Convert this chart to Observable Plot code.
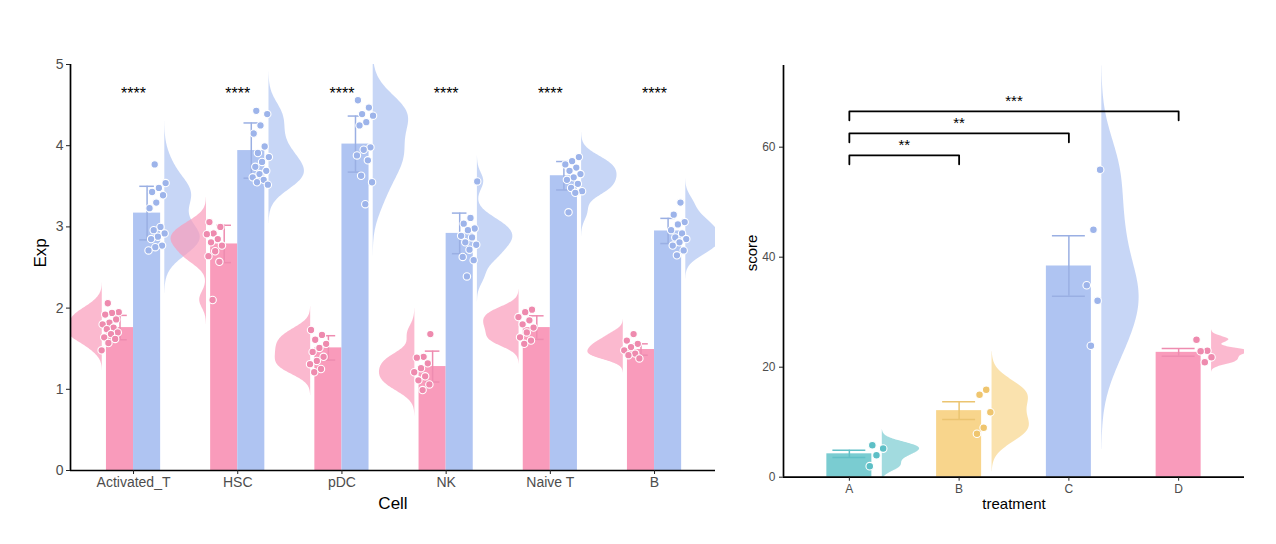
<!DOCTYPE html>
<html><head><meta charset="utf-8">
<script src="https://cdn.jsdelivr.net/npm/d3@7"></script>
<script src="https://cdn.jsdelivr.net/npm/@observablehq/plot@0.6"></script>
<style>
body{margin:0;background:#fff;}
#wrap{position:relative;width:1276px;height:544px;background:#fff;}
#wrap svg{position:absolute;top:0;}
</style>
</head><body><div id="wrap"></div>
<script>
// ---------- Left panel data ----------
const cells = ["Activated_T", "HSC", "pDC", "NK", "Naive T", "B"];
const sigCells = ["****", "****", "****", "****", "****", "****"];
const meanPink = [1.76, 2.79, 1.51, 1.28, 1.76, 1.49];
const sdPink   = [0.15, 0.23, 0.15, 0.19, 0.145, 0.07];
const meanBlue = [3.17, 3.94, 4.02, 2.92, 3.63, 2.95];
const sdBlue   = [0.33, 0.34, 0.345, 0.25, 0.175, 0.155];
const ptsPink = [
  [2.06,1.95,1.94,1.92,1.86,1.82,1.80,1.76,1.74,1.70,1.68,1.64,1.62,1.57,1.48],
  [3.06,3.00,2.92,2.91,2.85,2.81,2.77,2.70,2.64,2.57,2.10],
  [1.73,1.67,1.61,1.56,1.51,1.46,1.40,1.35,1.31,1.25,1.21],
  [1.68,1.40,1.39,1.32,1.26,1.21,1.16,1.11,1.06,0.99],
  [1.98,1.95,1.89,1.85,1.80,1.76,1.70,1.64,1.60,1.56],
  [1.68,1.60,1.56,1.52,1.48,1.44,1.42,1.38]
];
const ptsBlue = [
  [3.77,3.54,3.48,3.43,3.39,3.30,3.23,3.00,2.96,2.92,2.88,2.85,2.77,2.75,2.71],
  [4.43,4.39,4.25,4.15,3.99,3.91,3.86,3.80,3.74,3.69,3.65,3.61,3.58,3.55,3.52],
  [4.56,4.47,4.39,4.37,4.29,4.25,3.98,3.95,3.88,3.82,3.63,3.55,3.28],
  [3.56,3.11,3.04,2.98,2.96,2.89,2.87,2.81,2.78,2.72,2.63,2.59,2.39],
  [3.86,3.81,3.77,3.73,3.69,3.65,3.61,3.58,3.53,3.48,3.44,3.42,3.18],
  [3.30,3.15,3.06,3.03,2.96,2.92,2.87,2.85,2.81,2.77,2.71,2.65]
];
const yTicksLeft = [0, 1, 2, 3, 4, 5];

// ---------- Right panel data ----------
const treatments = ["A", "B", "C", "D"];
const scoreMean = [4.25, 12.1, 38.4, 22.7];
const scoreErr  = [0.65, 1.6, 5.5, 0.7];
const scorePts = [
  [5.8, 5.2, 4.0, 2.0],
  [15.9, 15.0, 11.8, 9.0, 7.9],
  [55.9, 45.0, 34.9, 32.1, 23.9],
  [25.0, 23.0, 22.9, 21.8, 20.9]
];
const comparisons = [["A","B"], ["A","C"], ["A","D"]];
const compLabels = ["**", "**", "***"];
const compY = [58.5, 62.5, 66.5];
const yTicksRight = [0, 20, 40, 60];

// ---------- styles ----------
const FONT = "Liberation Sans, Arial, Helvetica, sans-serif";
const pinkC = {bar:"#F99BBB", dot:"#EE8AAE", err:"#EE8CB0", vio:"#F99BBB"};
const blueC = {bar:"#AFC4F2", dot:"#9DB4EA", err:"#9AAFE3", vio:"#AFC4F2"};
const trtBar = ["#7ACCD1", "#F8D58C", "#AFC4F2", "#F99BBB"];
const trtDot = ["#5DBFC6", "#EFC56E", "#9DB4EA", "#EE8AAE"];
const trtErr = ["#62C0C7", "#EBC470", "#9AAFE3", "#EE8CB0"];

// ---------- helpers ----------
function nrd0(v) {
  const s = v.slice().sort(d3.ascending);
  const sd = d3.deviation(s);
  const iqr = (d3.quantile(s, 0.75) - d3.quantile(s, 0.25)) / 1.34;
  let lo = Math.min(sd, iqr);
  if (!(lo > 0)) lo = sd || 1;
  return 0.9 * lo * Math.pow(s.length, -0.2);
}
function density(values, n = 160) {
  const bw = nrd0(values);
  const lo = d3.min(values) - 3 * bw, hi = d3.max(values) + 3 * bw;
  const pts = d3.range(n).map(k => {
    const y = lo + (hi - lo) * k / (n - 1);
    const d = d3.mean(values, v => Math.exp(-0.5 * ((y - v) / bw) ** 2));
    return {y, d};
  });
  const m = d3.max(pts, p => p.d);
  pts.forEach(p => p.w = p.d / m);
  return pts;
}
const jit = k => ((k * 0.6180339887 + 0.37) % 1) - 0.5;

// ---------- build left rows ----------
const barW = 0.26;
const leftBars = [], leftViol = [], leftDots = [];
cells.forEach((c, i) => {
  leftBars.push({i, g:"pink", x1:i - barW, x2:i, mean:meanPink[i], sd:sdPink[i]});
  leftBars.push({i, g:"blue", x1:i, x2:i + barW, mean:meanBlue[i], sd:sdBlue[i]});
  density(ptsPink[i]).forEach(p => leftViol.push({key:c+"p", g:"pink", i, dir:-1, ...p}));
  density(ptsBlue[i]).forEach(p => leftViol.push({key:c+"b", g:"blue", i, dir:1, ...p}));
  ptsPink[i].forEach((v, k) => leftDots.push({g:"pink", i, v, k, side:-1}));
  ptsBlue[i].forEach((v, k) => leftDots.push({g:"blue", i, v, k, side:1}));
});
const colL = g => g === "pink" ? pinkC : blueC;

const left = Plot.plot({
  width: 740, height: 544,
  marginLeft: 70, marginRight: 25, marginTop: 64, marginBottom: 74,
  style: {fontFamily: FONT, background: "transparent", overflow: "visible"},
  x: {type: "linear", domain: [-0.605, 5.585], axis: null},
  y: {domain: [0, 5], axis: null},
  marks: [
    Plot.areaX(leftViol, {
      x1: d => d.i + d.dir * 0.30,
      x2: d => d.i + d.dir * (0.30 + 0.34 * d.w),
      y: "y", z: "key", fill: d => colL(d.g).vio, fillOpacity: 0.7, clip: true
    }),
    Plot.rect(leftBars, {x1: "x1", x2: "x2", y1: 0, y2: "mean", fill: d => colL(d.g).bar}),
    Plot.ruleX(leftBars, {x: d => (d.x1 + d.x2) / 2, y1: d => d.mean - d.sd, y2: d => d.mean + d.sd,
      stroke: d => colL(d.g).err, strokeWidth: 1.5}),
    Plot.ruleY(leftBars, {x1: d => (d.x1 + d.x2) / 2 - 0.07, x2: d => (d.x1 + d.x2) / 2 + 0.07,
      y: d => d.mean + d.sd, stroke: d => colL(d.g).err, strokeWidth: 1.5}),
    Plot.ruleY(leftBars, {x1: d => (d.x1 + d.x2) / 2 - 0.07, x2: d => (d.x1 + d.x2) / 2 + 0.07,
      y: d => d.mean - d.sd, stroke: d => colL(d.g).err, strokeWidth: 1.5}),
    Plot.dot(leftDots, {
      x: d => d.i + d.side * 0.225 + jit(d.k + d.i * 3) * 0.17,
      y: "v", r: 3.7, fill: d => colL(d.g).dot, stroke: "white", strokeWidth: 1.1
    }),
    Plot.text(sigCells, {x: (d, i) => i, y: () => 4.64, text: d => d, fontSize: 16, fill: "black"}),
    Plot.ruleY([0], {stroke: "black", strokeWidth: 1.7}),
    Plot.ruleX([-0.605], {stroke: "black", strokeWidth: 1.7}),
    Plot.axisY({ticks: yTicksLeft, tickFormat: d3.format("d"), tickSize: 4, tickPadding: 3, fontSize: 14, color: "#4D4D4D", stroke: "#222", label: null}),
    Plot.axisX({ticks: d3.range(cells.length), tickFormat: i => cells[i], tickSize: 4, tickPadding: 3,
      fontSize: 14, color: "#4D4D4D", stroke: "#222", label: null}),
    Plot.text(["Cell"], {frameAnchor: "bottom", dy: 38, fontSize: 17, fill: "black"}),
    Plot.text(["Exp"], {frameAnchor: "left", dx: -30, rotate: -90, fontSize: 17, fill: "black"})
  ]
});
left.style.left = "0px";

// ---------- build right rows ----------
const rBars = treatments.map((t, i) => ({i, t, mean: scoreMean[i], err: scoreErr[i]}));
const rViol = [], rDots = [];
treatments.forEach((t, i) => {
  density(scorePts[i]).forEach(p => rViol.push({key: t, i, ...p}));
  scorePts[i].forEach((v, k) => rDots.push({i, v, k}));
});
const bracketRows = [];
comparisons.forEach(([a, b], j) => {
  const xa = treatments.indexOf(a), xb = treatments.indexOf(b), y = compY[j];
  [[xa, y - 1.6], [xa, y], [xb, y], [xb, y - 1.6]].forEach(([x, yy]) => bracketRows.push({j, x, y: yy}));
});
const labelRows = comparisons.map(([a, b], j) => ({
  x: (treatments.indexOf(a) + treatments.indexOf(b)) / 2, y: compY[j] + 1.8, text: compLabels[j]
}));

const right = Plot.plot({
  width: 536, height: 544,
  marginLeft: 43, marginRight: 32, marginTop: 65, marginBottom: 67.3,
  style: {fontFamily: FONT, background: "transparent", overflow: "visible"},
  x: {type: "linear", domain: [-0.6, 3.6], axis: null},
  y: {domain: [0, 74.85], axis: null},
  marks: [
    Plot.areaX(rViol, {
      x1: d => d.i + 0.30, x2: d => d.i + 0.30 + 0.34 * d.w,
      y: "y", z: "key", fill: d => trtBar[d.i], fillOpacity: 0.7, clip: true
    }),
    Plot.rect(rBars, {x1: d => d.i - 0.205, x2: d => d.i + 0.205, y1: 0, y2: "mean", fill: d => trtBar[d.i]}),
    Plot.ruleX(rBars, {x: "i", y1: d => d.mean - d.err, y2: d => d.mean + d.err, stroke: d => trtErr[d.i], strokeWidth: 1.5}),
    Plot.ruleY(rBars, {x1: d => d.i - 0.15, x2: d => d.i + 0.15, y: d => d.mean + d.err, stroke: d => trtErr[d.i], strokeWidth: 1.5}),
    Plot.ruleY(rBars, {x1: d => d.i - 0.15, x2: d => d.i + 0.15, y: d => d.mean - d.err, stroke: d => trtErr[d.i], strokeWidth: 1.5}),
    Plot.dot(rDots, {x: d => d.i + 0.23 + jit(d.k + d.i * 2) * 0.16, y: "v", r: 3.8,
      fill: d => trtDot[d.i], stroke: "white", strokeWidth: 1.1}),
    Plot.line(bracketRows, {x: "x", y: "y", z: "j", stroke: "black", strokeWidth: 1.8}),
    Plot.text(labelRows, {x: "x", y: "y", text: "text", fontSize: 15, fill: "black"}),
    Plot.ruleY([0], {stroke: "black", strokeWidth: 1.7}),
    Plot.ruleX([-0.6], {stroke: "black", strokeWidth: 1.7}),
    Plot.axisY({ticks: yTicksRight, tickFormat: d3.format("d"), tickSize: 4, tickPadding: 4, fontSize: 12, color: "#4D4D4D", stroke: "#222", label: null}),
    Plot.axisX({ticks: d3.range(treatments.length), tickFormat: i => treatments[i], tickSize: 4, tickPadding: 3,
      fontSize: 12, color: "#4D4D4D", stroke: "#222", label: null}),
    Plot.text(["treatment"], {frameAnchor: "bottom", dy: 32, fontSize: 15, fill: "black"}),
    Plot.text(["score"], {frameAnchor: "left", dx: -31, rotate: -90, fontSize: 15, fill: "black"})
  ]
});
right.style.left = "740px";

document.getElementById("wrap").append(left, right);
</script>
</body></html>
